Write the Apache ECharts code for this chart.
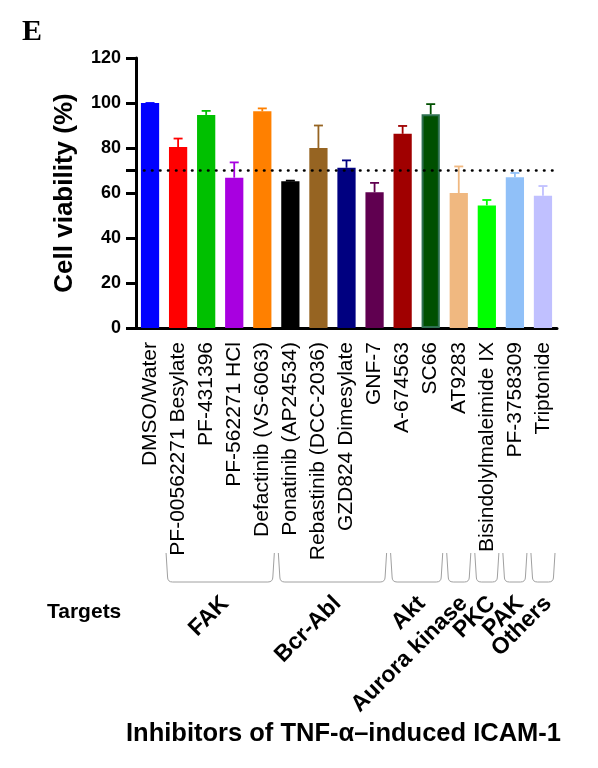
<!DOCTYPE html>
<html>
<head>
<meta charset="utf-8">
<script src="https://cdn.jsdelivr.net/npm/echarts@6/dist/echarts.min.js"></script>
<style>
html,body{margin:0;padding:0;background:#fff;}
#chart{width:598px;height:768px;}
</style>
</head>
<body>
<div id="chart"></div>
<script>
// ---- data ----
const categories = [
  'DMSO/Water', 'PF-00562271 Besylate', 'PF-431396', 'PF-562271 HCl',
  'Defactinib (VS-6063)', 'Ponatinib (AP24534)', 'Rebastinib (DCC-2036)',
  'GZD824 Dimesylate', 'GNF-7', 'A-674563', 'SC66', 'AT9283',
  'Bisindolylmaleimide IX', 'PF-3758309', 'Triptonide'
];
const viability = [100, 80.5, 94.7, 66.8, 96.3, 65.2, 80.0, 71.2, 60.3, 86.3, 95.0, 60.0, 54.5, 67.0, 58.8];
const errorSD   = [0, 3.7, 1.8, 6.8, 1.3, 0.3, 10.0, 3.3, 4.2, 3.5, 4.5, 11.8, 2.4, 1.9, 4.3];
const barColors = [
  '#0000FF', '#FF0000', '#00C000', '#A800E0', '#FF8000', '#000000', '#966422',
  '#000080', '#600050', '#A00000', '#005000', '#F0B880', '#00FF00', '#90C0F8', '#C0C0FF'
];
const threshold = 70;
const yTickLabels = [0, 20, 40, 60, 80, 100, 120];
const yTicks = [0, 20, 40, 60, 70, 80, 100, 120];
const groupNames = ['FAK', 'Bcr-Abl', 'Akt', 'Aurora kinase', 'PKC', 'PAK', 'Others'];
const groupStart = [1, 5, 9, 11, 12, 13, 14];
const groupEnd   = [4, 8, 10, 11, 12, 13, 14];

// ---- chart ----
const chart = echarts.init(document.getElementById('chart'), null, {renderer: 'canvas'});
const FONT = 'Liberation Sans, Arial, Helvetica, sans-serif';

const barData = viability.map((v, i) => ({
  value: v,
  itemStyle: i === 10
    ? {color: barColors[i], borderColor: '#2E7050', borderWidth: 2}
    : {color: barColors[i]}
}));
const errData = viability.map((v, i) => [i, v, errorSD[i]]);
const groupData = groupNames.map((n, i) => [groupStart[i], groupEnd[i], i]);

const option = {
  animation: false,
  backgroundColor: '#fff',
  title: [
    {text: 'E', left: 17, top: 12,
     textStyle: {fontFamily: 'Liberation Serif, Times New Roman, serif', fontWeight: 'bold', fontSize: 30, color: '#000'}},
    {text: 'Targets', left: 42, top: 597,
     textStyle: {fontFamily: FONT, fontWeight: 'bold', fontSize: 21, color: '#000'}},
    {text: 'Inhibitors of TNF-α–induced ICAM-1', left: 121, top: 716,
     textStyle: {fontFamily: FONT, fontWeight: 'bold', fontSize: 25.5, color: '#000'}}
  ],
  grid: {left: 136, width: 421, top: 58, bottom: 440, containLabel: false},
  xAxis: {
    type: 'category',
    data: categories,
    axisLine: {lineStyle: {color: '#000', width: 3}},
    axisTick: {alignWithLabel: true, length: 10, lineStyle: {color: '#000', width: 3}},
    axisLabel: {rotate: 90, interval: 0, margin: 14, fontSize: 21, color: '#000', fontFamily: FONT}
  },
  yAxis: {
    type: 'value',
    min: 0, max: 120, interval: 20,
    name: 'Cell viability (%)',
    nameLocation: 'middle',
    nameRotate: 90,
    nameGap: 58,
    nameTextStyle: {fontFamily: FONT, fontWeight: 'bold', fontSize: 26, color: '#000'},
    axisLine: {show: true, lineStyle: {color: '#000', width: 3}},
    axisTick: {show: true, length: 10, customValues: yTicks, lineStyle: {color: '#000', width: 3}},
    axisLabel: {customValues: yTickLabels, margin: 15, fontSize: 18, fontWeight: 'bold', color: '#000', fontFamily: FONT},
    splitLine: {show: false}
  },
  series: [
    {
      type: 'line',
      data: [],
      z: 1,
      markLine: {
        silent: true,
        symbol: 'none',
        label: {show: false},
        lineStyle: {color: '#000', type: [0.5, 7.5], cap: 'round', width: 2.6},
        data: [{yAxis: threshold}]
      }
    },
    {
      type: 'bar',
      data: barData,
      barWidth: '65%',
      z: 3
    },
    {
      type: 'custom',
      z: 4,
      data: errData,
      renderItem: function (params, api) {
        const i = api.value(0), v = api.value(1), e = api.value(2);
        const base = api.coord([i, v]);
        const top = api.coord([i, v + e]);
        const col = barColors[i];
        return {
          type: 'group',
          children: [
            {type: 'line', shape: {x1: base[0], y1: base[1], x2: top[0], y2: top[1]},
             style: {stroke: col, lineWidth: 1.8}},
            {type: 'line', shape: {x1: top[0] - 4.5, y1: top[1], x2: top[0] + 4.5, y2: top[1]},
             style: {stroke: col, lineWidth: 1.8}}
          ]
        };
      }
    },
    {
      type: 'custom',
      clip: false,
      silent: true,
      z: 5,
      data: groupData,
      renderItem: function (params, api) {
        const s = api.value(0), e = api.value(1), gi = api.value(2);
        const half = api.size([1, 0])[0] / 2;
        const y0 = api.coord([0, 0])[1];
        const xs = api.coord([s, 0])[0] - half + 2;
        const xe = api.coord([e, 0])[0] + half - 2;
        const top = y0 + 225, bot = y0 + 254, r = 5;
        const cx = (api.coord([s, 0])[0] + api.coord([e, 0])[0]) / 2;
        const path = 'M' + xs + ',' + top +
          ' L' + (xs + 1.5) + ',' + (bot - r) +
          ' Q' + (xs + 1.5) + ',' + bot + ' ' + (xs + 1.5 + r) + ',' + bot +
          ' L' + (xe - 1.5 - r) + ',' + bot +
          ' Q' + (xe - 1.5) + ',' + bot + ' ' + (xe - 1.5) + ',' + (bot - r) +
          ' L' + xe + ',' + top;
        return {
          type: 'group',
          children: [
            {type: 'path', shape: {pathData: path},
             style: {fill: 'none', stroke: '#a0a0a0', lineWidth: 1}},
            {type: 'text', x: cx + 5, y: y0 + 272, rotation: Math.PI / 4,
             style: {text: groupNames[gi], fill: '#000', fontFamily: FONT, fontWeight: 'bold',
                     fontSize: 23, align: 'right', verticalAlign: 'middle'}}
          ]
        };
      }
    }
  ]
};
chart.setOption(option);
</script>
</body>
</html>
